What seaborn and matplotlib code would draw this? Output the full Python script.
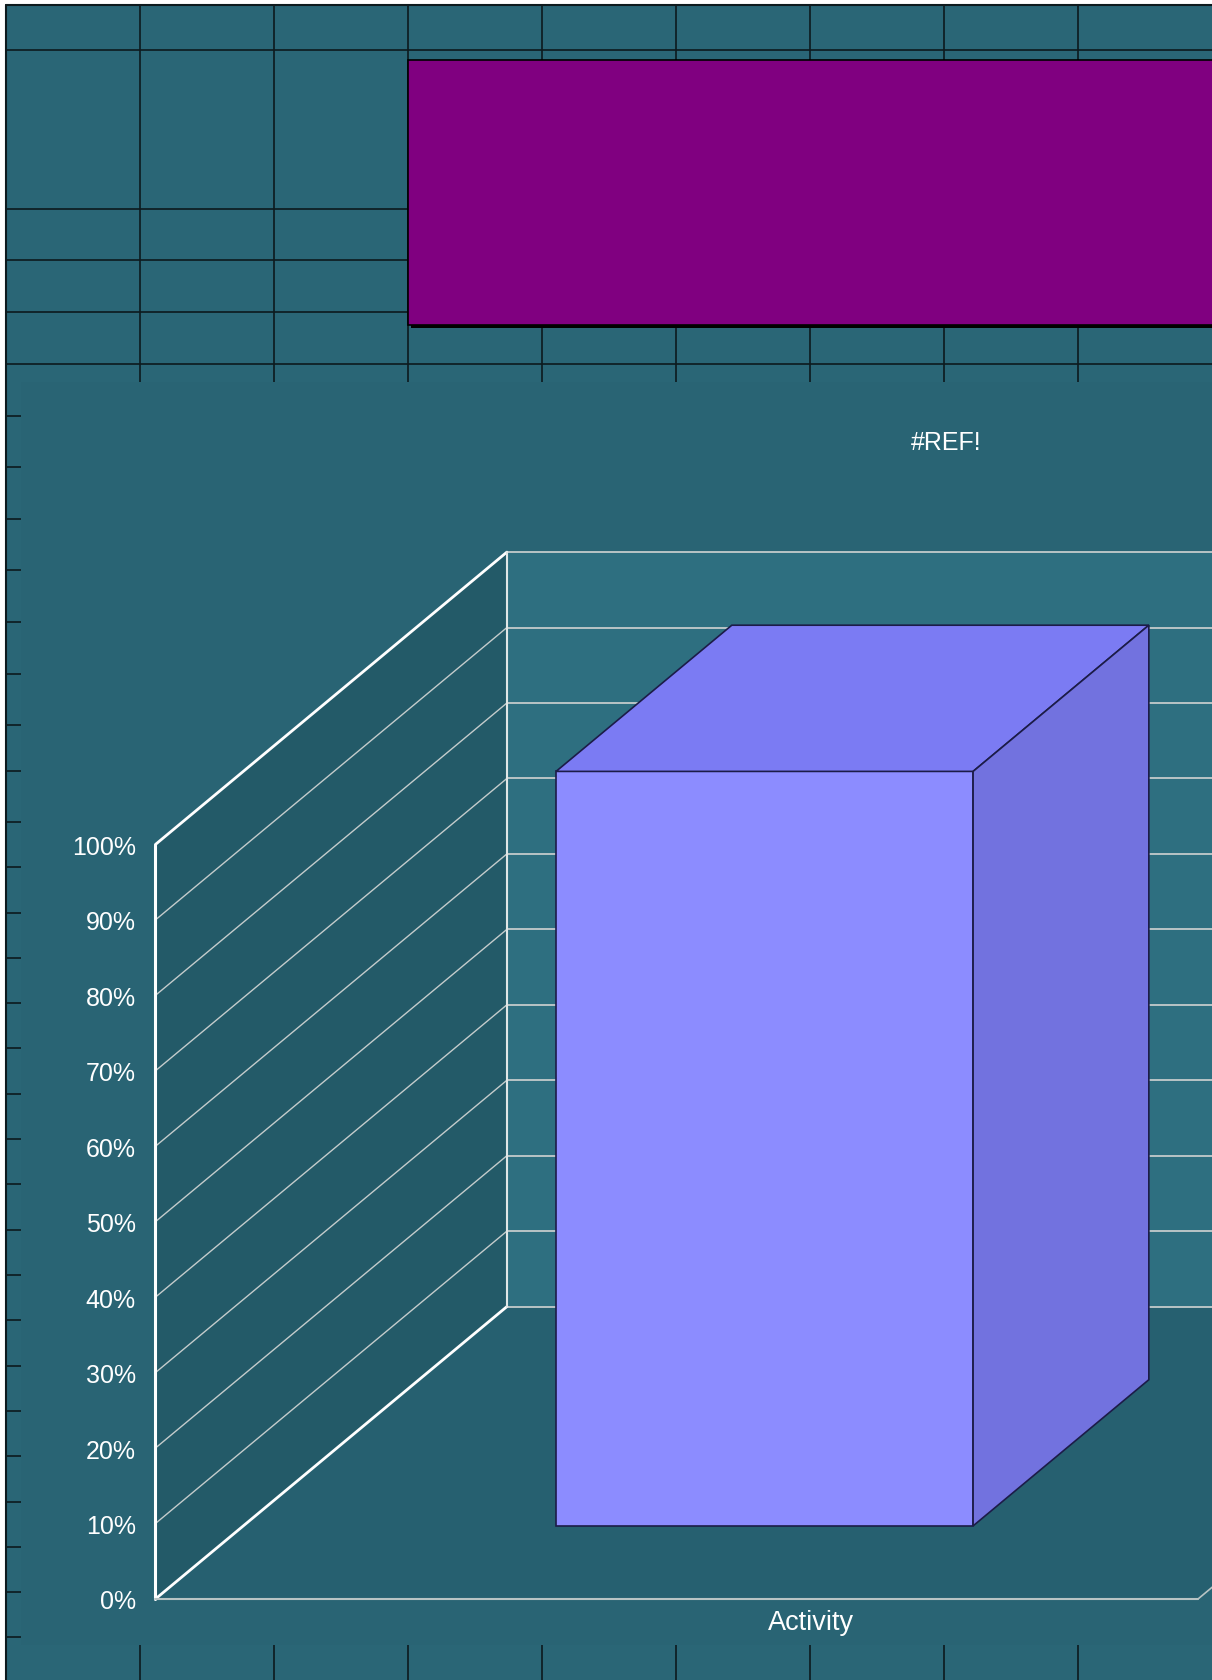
import matplotlib
matplotlib.use("Agg")
import matplotlib.pyplot as plt
from matplotlib.patches import Rectangle, Polygon
import seaborn as sns
import pandas as pd

# chart data
categories = ["Activity"]
values = [1.0]
y_ticks = [0.0, 0.1, 0.2, 0.3, 0.4, 0.5, 0.6, 0.7, 0.8, 0.9, 1.0]
y_tick_labels = ["0%", "10%", "20%", "30%", "40%", "50%", "60%", "70%", "80%", "90%", "100%"]
title_text = "#REF!"

# spreadsheet behind the chart (pixel positions)
col_lines = [140, 274, 408, 542, 676, 810, 944, 1078]
row_lines = [51, 210, 261, 313, 365, 417, 468, 520, 571, 623, 675, 726, 772, 823, 868,
             914, 959, 1004, 1049, 1095, 1140, 1185, 1231, 1276, 1321, 1367, 1412,
             1457, 1503, 1548, 1593, 1638]

W, H = 1212, 1681
cell_bg = "#2a6676"
chart_bg = "#296474"
back_wall = "#2e6f80"
side_wall = "#235a68"
floor_col = "#266070"
grid_col = "#c4cccc"
bar_front = "#8c8cff"
bar_top = "#7b7bf3"
bar_side = "#7272df"
bar_edge = "#1c1c48"

sns.set_style("white")
plt.rcParams["font.family"] = ["Liberation Sans", "DejaVu Sans"]

fig = plt.figure(figsize=(W / 100, H / 100), dpi=100)
fig.patch.set_facecolor("white")


def frac(x0, y0, x1, y1):
    # pixel box (top-left origin) -> figure fraction rect
    return [x0 / W, 1 - y1 / H, (x1 - x0) / W, (y1 - y0) / H]


# ---- background sheet ----
bg = fig.add_axes([0, 0, 1, 1], zorder=0)
bg.set_xlim(0, W)
bg.set_ylim(H, 0)
bg.axis("off")
bg.add_patch(Rectangle((6, 6), W, H, facecolor=cell_bg, edgecolor="none", zorder=0))
for x in col_lines:
    bg.plot([x, x], [6, H], color="#0d1a1e", lw=1.2, zorder=1)
for y in row_lines:
    bg.plot([6, W], [y, y], color="#0d1a1e", lw=1.2, zorder=1)
bg.plot([6, 6], [6, H], color="#0d1a1e", lw=1.5, zorder=1)
bg.plot([6, W], [6, 6], color="#0d1a1e", lw=1.5, zorder=1)

# chart object area
bg.add_patch(Rectangle((21, 383), W, 1646 - 383, facecolor=chart_bg, edgecolor="none", zorder=3))

# purple text box with shadow
bg.add_patch(Rectangle((411, 64), W, 265, facecolor="black", edgecolor="none", zorder=3))
bg.add_patch(Rectangle((408, 61), W, 265, facecolor="#800080", edgecolor="black", lw=1.2, zorder=4))

bg.text(946, 443, title_text, color="white", fontsize=18, ha="center", va="center", zorder=5)

# ---- 3D chart: front plane axes ----
fx0, fx1, fy0, fy1 = 155.4, 1198, 845.5, 1600
ddx, ddy = 351.5, 292.4
ax = fig.add_axes(frac(fx0, fy0, fx1, fy1), zorder=1)
ax.set_xlim(-0.5, 0.5)
ax.set_ylim(0, 1)
ax.patch.set_visible(False)
for s in ax.spines.values():
    s.set_visible(False)
DX = ddx / (fx1 - fx0)
DY = ddy / (fy1 - fy0)
xl, xr = -0.5, 0.5

# back wall
ax.add_patch(Polygon([(xl + DX, DY), (xr + DX, DY), (xr + DX, 1 + DY), (xl + DX, 1 + DY)],
                     closed=True, facecolor=back_wall, edgecolor="none", clip_on=False))
# side wall
ax.add_patch(Polygon([(xl, 0), (xl, 1), (xl + DX, 1 + DY), (xl + DX, DY)],
                     closed=True, facecolor=side_wall, edgecolor="none", clip_on=False))
# floor
ax.add_patch(Polygon([(xl, 0), (xr, 0), (xr + DX, DY), (xl + DX, DY)],
                     closed=True, facecolor=floor_col, edgecolor="none", clip_on=False))

for t in y_ticks:
    ax.plot([xl + DX, xr + DX], [t + DY, t + DY], color=grid_col, lw=1.3, clip_on=False)
    if 0 < t < 1:
        ax.plot([xl, xl + DX], [t, t + DY], color=grid_col, lw=1.0, clip_on=False)
ax.plot([xl, xl + DX], [0, DY], color="white", lw=2, clip_on=False)
ax.plot([xl, xl + DX], [1, 1 + DY], color="white", lw=2, clip_on=False)
ax.plot([xl + DX, xl + DX], [DY, 1 + DY], color="#e0e6e6", lw=1.5, clip_on=False)
ax.plot([xl, xl], [0, 1], color="white", lw=2.2, clip_on=False)
ax.plot([xl, xr], [0, 0], color="#b8c4c4", lw=1.5, clip_on=False)
ax.plot([xr, xr + DX], [0, DY], color="#b8c4c4", lw=1.2, clip_on=False)

ax.set_xticks([])
ax.set_yticks(y_ticks, y_tick_labels)
ax.tick_params(axis="y", length=0, pad=14, labelcolor="white", labelsize=18)
ax.annotate(categories[0], xy=(0, 0), xytext=(96.5, -16.6), textcoords="offset points",
            ha="center", va="center", color="white", fontsize=19.5, annotation_clip=False)

# ---- bar, drawn on the plane at 1/4 depth ----
bx0, by1 = fx0 + 0.25 * ddx, fy1 - 0.25 * ddy
axb = fig.add_axes(frac(bx0, fy0 - 0.25 * ddy, bx0 + (fx1 - fx0), by1), zorder=2)
df = pd.DataFrame({"category": categories, "value": values})
sns.barplot(data=df, x="category", y="value", ax=axb, width=0.4, color=bar_front,
            saturation=1, edgecolor=bar_edge, linewidth=1.2)
axb.set_xlim(-0.5, 0.5)
axb.set_ylim(0, 1)
axb.axis("off")
hx, hy = 0.5 * DX, 0.5 * DY
for bar in axb.patches:
    x0, w, h = bar.get_x(), bar.get_width(), bar.get_height()
    x1 = x0 + w
    axb.add_patch(Polygon([(x0, h), (x1, h), (x1 + hx, h + hy), (x0 + hx, h + hy)], closed=True,
                          facecolor=bar_top, edgecolor=bar_edge, lw=1.2, clip_on=False))
    axb.add_patch(Polygon([(x1, 0), (x1, h), (x1 + hx, h + hy), (x1 + hx, hy)], closed=True,
                          facecolor=bar_side, edgecolor=bar_edge, lw=1.2, clip_on=False))
    bar.set_clip_on(False)

fig.savefig("out.png", dpi=100)
